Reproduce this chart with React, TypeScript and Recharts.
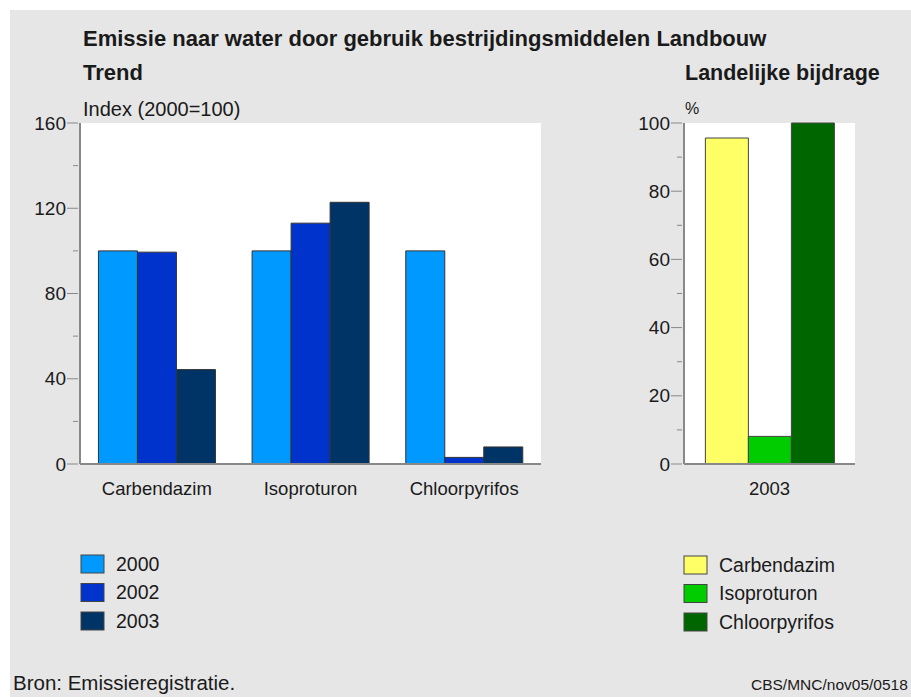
import { BarChart, Bar, XAxis, YAxis, CartesianGrid } from 'recharts';

const FONT = '"Liberation Sans", Arial, Helvetica, sans-serif';

// Trend (index 2000 = 100)
const substances = ['Carbendazim', 'Isoproturon', 'Chloorpyrifos'];
const index2000 = [100, 100, 100];
const index2002 = [99.4, 113, 3.1];
const index2003 = [44.3, 122.8, 8];
const trendYears = ['2000', '2002', '2003'];
const trendColors = ['#0099ff', '#0033cc', '#003366'];
const trendTicks = [0, 20, 40, 60, 80, 100, 120, 140, 160];

// Landelijke bijdrage (%)
const shareYear = ['2003'];
const shareCarbendazim = [95.6];
const shareIsoproturon = [8.1];
const shareChloorpyrifos = [100];
const shareColors = ['#ffff66', '#00cc00', '#006600'];
const shareTicks = [0, 10, 20, 30, 40, 50, 60, 70, 80, 90, 100];

const trendData = substances.map((name, i) => ({
  name,
  '2000': index2000[i],
  '2002': index2002[i],
  '2003': index2003[i],
}));

const shareData = shareYear.map((name, i) => ({
  name,
  Carbendazim: shareCarbendazim[i],
  Isoproturon: shareIsoproturon[i],
  Chloorpyrifos: shareChloorpyrifos[i],
}));

function YTick({ x, y, payload, major }: any) {
  const isMajor = payload.value % major === 0;
  return (
    <g>
      <line x1={x - (isMajor ? 13 : 7)} x2={x - 2} y1={y} y2={y} stroke="#888" strokeWidth={1} />
      {isMajor && (
        <text x={x - 14} y={y} dy="0.35em" textAnchor="end" fontSize={19} fill="#1a1a1a" fontFamily={FONT}>
          {payload.value}
        </text>
      )}
    </g>
  );
}

function XTick({ x, y, payload }: any) {
  return (
    <text x={x} y={y + 31} textAnchor="middle" fontSize={18.5} fill="#1a1a1a" fontFamily={FONT}>
      {payload.value}
    </text>
  );
}

function LegendBox({ x, y, labels, colors }: { x: number; y: number; labels: string[]; colors: string[] }) {
  return (
    <g>
      {labels.map((l, i) => (
        <g key={l}>
          <rect x={x} y={y + i * 28.5} width={23} height={18} fill={colors[i]} stroke="#444" strokeWidth={1} />
          <text x={x + 35} y={y + i * 28.5 + 15.5} fontSize={19.5} fill="#1a1a1a" fontFamily={FONT}>
            {l}
          </text>
        </g>
      ))}
    </g>
  );
}

export default function App() {
  return (
    <div style={{ position: 'absolute', left: 0, top: 0, width: 911, height: 697, background: '#fff', overflow: 'hidden' }}>
      <div style={{ position: 'absolute', left: 10, top: 10, width: 901, height: 687, background: '#e6e6e6' }} />
      <svg width={911} height={697} style={{ position: 'absolute', left: 0, top: 0 }}>
        <g fontFamily={FONT} fill="#1a1a1a">
          <text x={83} y={46} fontSize={22} fontWeight="bold">Emissie naar water door gebruik bestrijdingsmiddelen Landbouw</text>
          <text x={83} y={80} fontSize={22} fontWeight="bold">Trend</text>
          <text x={685} y={80} fontSize={21.5} fontWeight="bold">Landelijke bijdrage</text>
          <text x={83} y={116} fontSize={20}>Index (2000=100)</text>
          <text x={685} y={114} fontSize={16}>%</text>
          <text x={13} y={690} fontSize={20.5}>Bron: Emissieregistratie.</text>
          <text x={751} y={690} fontSize={15.5}>CBS/MNC/nov05/0518</text>
        </g>
        <LegendBox x={81} y={555} labels={trendYears} colors={trendColors} />
        <LegendBox x={684} y={556} labels={substances} colors={shareColors} />
      </svg>

      <div style={{ position: 'absolute', left: 0, top: 100 }}>
        <BarChart
          width={560}
          height={420}
          data={trendData}
          margin={{ top: 23, right: 19, left: 0, bottom: 0 }}
          barCategoryGap="12%"
          barGap={0}
        >
          <CartesianGrid fill="#fff" stroke="none" horizontal={false} vertical={false} />
          <XAxis
            dataKey="name"
            height={56}
            interval={0}
            tickLine={false}
            tickSize={0}
            tickMargin={0}
            axisLine={{ stroke: '#888', strokeWidth: 2 }}
            tick={(p: any) => <XTick {...p} />}
          />
          <YAxis
            width={80}
            domain={[0, 160]}
            ticks={trendTicks}
            interval={0}
            tickLine={false}
            tickSize={0}
            tickMargin={0}
            axisLine={{ stroke: '#888', strokeWidth: 2 }}
            tick={(p: any) => <YTick {...p} major={40} />}
          />
          {trendYears.map((yr, i) => (
            <Bar key={yr} dataKey={yr} fill={trendColors[i]} stroke="#333" strokeWidth={1} isAnimationActive={false} />
          ))}
        </BarChart>
      </div>

      <div style={{ position: 'absolute', left: 600, top: 100 }}>
        <BarChart
          width={275}
          height={420}
          data={shareData}
          margin={{ top: 23, right: 20, left: 0, bottom: 0 }}
          barCategoryGap="12.5%"
          barGap={0}
        >
          <CartesianGrid fill="#fff" stroke="none" horizontal={false} vertical={false} />
          <XAxis
            dataKey="name"
            height={56}
            interval={0}
            tickLine={false}
            tickSize={0}
            tickMargin={0}
            axisLine={{ stroke: '#888', strokeWidth: 2 }}
            tick={(p: any) => <XTick {...p} />}
          />
          <YAxis
            width={84}
            domain={[0, 100]}
            ticks={shareTicks}
            interval={0}
            tickLine={false}
            tickSize={0}
            tickMargin={0}
            axisLine={{ stroke: '#888', strokeWidth: 2 }}
            tick={(p: any) => <YTick {...p} major={20} />}
          />
          {substances.map((s, i) => (
            <Bar key={s} dataKey={s} fill={shareColors[i]} stroke="#444" strokeWidth={1} isAnimationActive={false} />
          ))}
        </BarChart>
      </div>
    </div>
  );
}
